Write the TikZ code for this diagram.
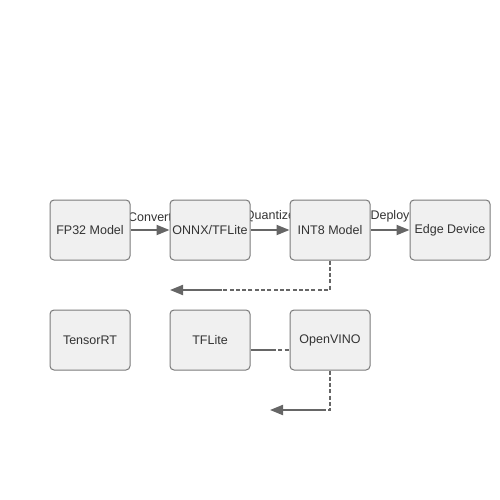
\documentclass[tikz,border=0pt]{standalone}
\usepackage{fontspec}
\setmainfont{Liberation Sans}
\usetikzlibrary{arrows.meta,positioning,calc}
\definecolor{boxfill}{HTML}{F0F0F0}
\definecolor{boxline}{HTML}{7A7A7A}
\definecolor{linkgray}{HTML}{666666}
\definecolor{textgray}{HTML}{333333}
\pgfdeclarelayer{back}
\pgfsetlayers{back,main}

\begin{document}
\begin{tikzpicture}[x=1pt,y=-1pt]
	
	% Definitions.
	\tikzstyle{every node}=[
		font=\fontsize{12.5}{14}\selectfont,
		text=textgray
	]
	\tikzstyle{stagebox}=[draw=boxline, fill=boxfill, line width=1pt, rounded corners=4pt, minimum width=80pt, minimum height=60pt, inner sep=0pt]
	\tikzstyle{link}=[draw=linkgray, line width=2pt]
	\tikzstyle{dashlink}=[link, dash pattern=on 4pt off 2.3pt]
	\def\myarrow{Triangle[width=10pt,length=13pt]};
	\def\BoxStep{120pt};
	\def\LabelShift{4pt};
	
	\useasboundingbox (0,0) rectangle (500,500);
	
	% ---------- Pipeline Row ---------
	
	\node[stagebox] (fp32) at (90,230) {FP32 Model};
	\node[stagebox, on grid, right=\BoxStep of fp32] (onnx) {ONNX/TFLite};
	\node[stagebox, on grid, right=\BoxStep of onnx] (int8) {INT8 Model};
	\node[stagebox, on grid, right=\BoxStep of int8] (edge) {Edge Device};
	
	% ---------- Runtime Row ---------
	
	\node[stagebox] (tensorrt) at (90,340) {TensorRT};
	\node[stagebox, on grid, right=\BoxStep of tensorrt] (tflite) {TFLite};
	\node[stagebox, on grid, right=\BoxStep of tflite] (openvino) {OpenVINO};
	
	% ------------ Free Ends of Links -----------
	
	\coordinate (cornerA) at (int8.south |- 0,290);
	\coordinate (splitA) at (222,290);
	\coordinate (endA) at (170,290);
	\coordinate (cornerB) at (openvino.south |- 0,410);
	\coordinate (splitB) at (325,410);
	\coordinate (endB) at (270,410);
	\coordinate (startC) at ([yshift=-10pt]tflite.east);
	\coordinate (splitC) at (272,350);
	\coordinate (endC) at ([yshift=-10pt]openvino.west);
	
	\begin{pgfonlayer}{back}
	
	% Convert, Quantize, Deploy.
	\draw[link, -{\myarrow}] (fp32) -- node[above, yshift=\LabelShift] {Convert} (onnx);
	\draw[link, -{\myarrow}] (onnx) -- node[above, yshift=\LabelShift] {Quantize} (int8);
	\draw[link, -{\myarrow}] (int8) -- node[above, yshift=\LabelShift] {Deploy} (edge);
	
	\end{pgfonlayer}
	
	% Links below the INT8 Model.
	\draw[dashlink] (int8.south) -- (cornerA) -- (splitA);
	\draw[link, -{\myarrow}] (splitA) -- (endA);
	
	% Links below OpenVINO.
	\draw[dashlink] (openvino.south) -- (cornerB) -- (splitB);
	\draw[link, -{\myarrow}] (splitB) -- (endB);
	
	% TFLite to OpenVINO.
	\draw[link] (startC) -- (splitC);
	\draw[dashlink] (splitC) -- (endC);

\end{tikzpicture}
\end{document}
